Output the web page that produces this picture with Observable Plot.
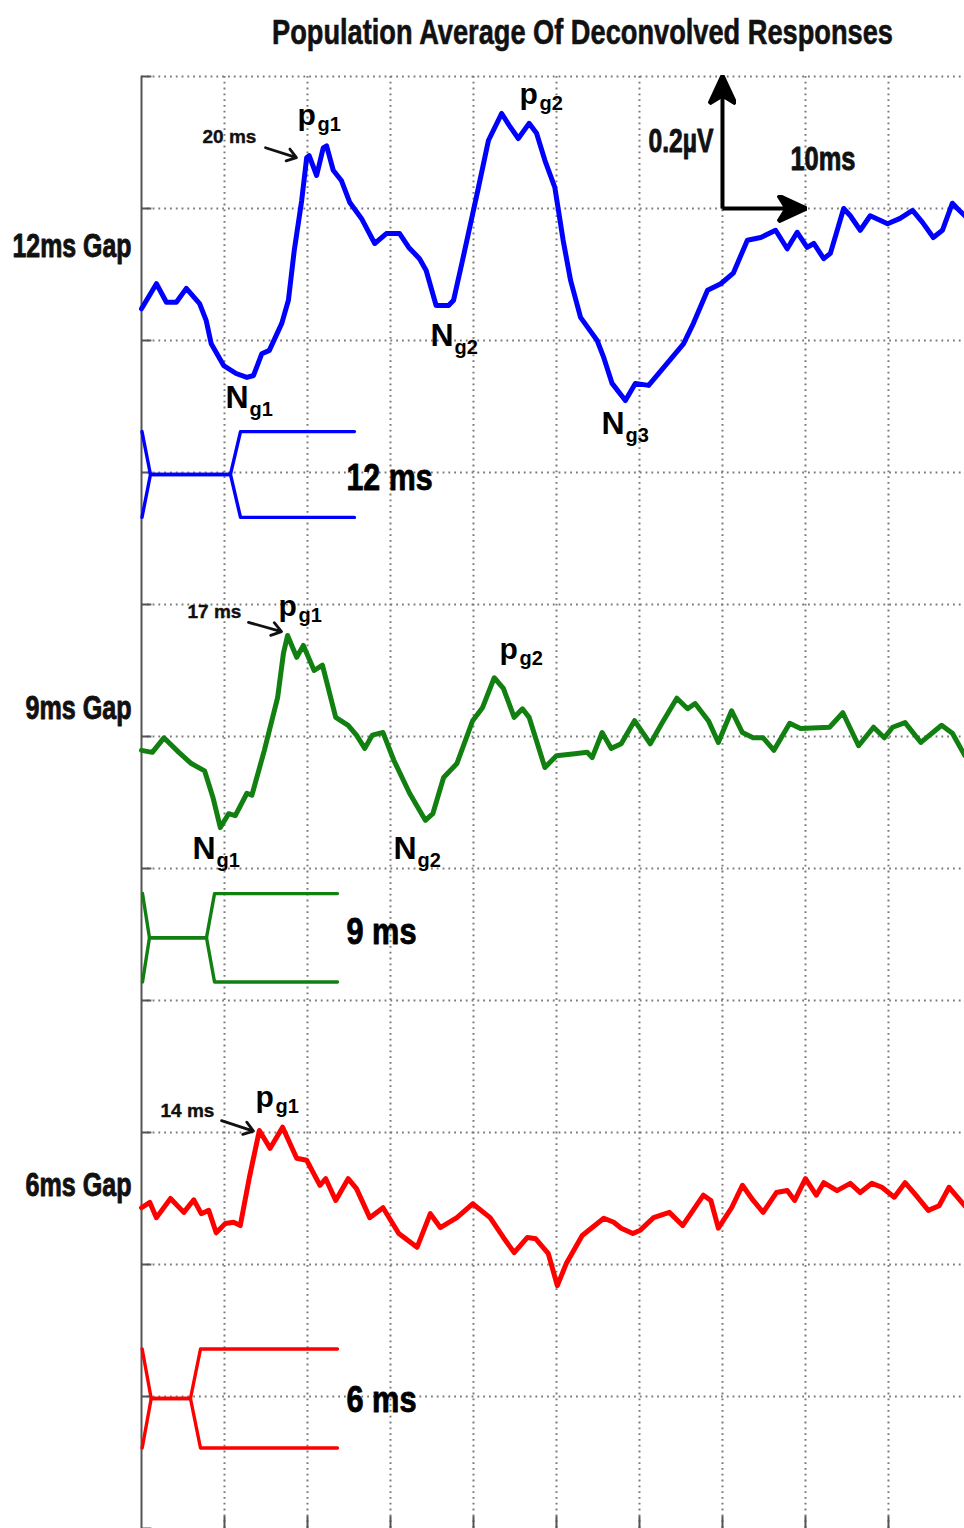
<!DOCTYPE html>
<html><head><meta charset="utf-8">
<script src="https://cdn.jsdelivr.net/npm/d3@7"></script>
<script src="https://cdn.jsdelivr.net/npm/@observablehq/plot@0.6"></script>
<style>
body{margin:0;background:#fff;}
#title{position:relative;width:964px;height:60px;overflow:hidden;}
#title span{position:absolute;left:272px;top:14px;font-weight:bold;font-size:35px;font-family:"Liberation Sans",Arial,sans-serif;line-height:1;white-space:nowrap;color:#111;transform-origin:0 0;-webkit-text-stroke:0.6px #111;}
</style></head><body>
<div id="title"><span id="titleText">Population Average Of Deconvolved Responses</span></div>
<div id="chart"></div>
<script>
// ---- data: [time (ms), amplitude (µV) relative to the trace baseline] ----
const trace12 = [[0.0,-0.152],[1.8,-0.114],[3.0,-0.142],[4.2,-0.142],[5.4,-0.121],[7.0,-0.144],[7.8,-0.170],[8.4,-0.205],[9.9,-0.238],[11.4,-0.250],[12.7,-0.256],[13.5,-0.253],[14.5,-0.220],[15.4,-0.215],[16.9,-0.174],[17.7,-0.139],[18.4,-0.064],[19.3,0.012],[19.9,0.077],[20.2,0.080],[21.1,0.050],[21.9,0.092],[22.3,0.095],[23.1,0.058],[24.1,0.042],[25.1,0.009],[26.5,-0.015],[28.1,-0.053],[29.5,-0.038],[31.1,-0.038],[32.2,-0.059],[33.5,-0.076],[34.3,-0.094],[35.5,-0.147],[37.0,-0.147],[37.6,-0.139],[38.6,-0.083],[39.8,-0.014],[40.6,0.032],[41.8,0.103],[43.4,0.144],[44.3,0.126],[45.4,0.106],[46.7,0.129],[47.6,0.114],[48.6,0.073],[49.8,0.032],[50.8,-0.048],[51.7,-0.109],[52.9,-0.165],[54.9,-0.200],[55.7,-0.226],[56.7,-0.265],[58.3,-0.291],[59.5,-0.265],[61.1,-0.268],[62.9,-0.241],[65.3,-0.205],[66.5,-0.174],[68.2,-0.124],[69.8,-0.114],[71.3,-0.098],[73.0,-0.048],[74.6,-0.044],[76.4,-0.033],[77.8,-0.061],[79.0,-0.036],[80.2,-0.059],[81.0,-0.053],[82.2,-0.076],[83.0,-0.068],[84.6,0.000],[85.4,-0.011],[86.6,-0.033],[87.8,-0.011],[89.9,-0.023],[91.4,-0.015],[92.9,-0.003],[94.1,-0.021],[95.4,-0.044],[96.5,-0.033],[97.7,0.008],[98.3,0.000],[99.2,-0.011]];
const trace9 = [[0.0,-0.021],[1.3,-0.024],[2.7,-0.002],[4.5,-0.024],[6.0,-0.041],[7.6,-0.052],[8.6,-0.092],[9.5,-0.138],[10.5,-0.117],[11.3,-0.120],[12.7,-0.086],[13.3,-0.089],[14.8,-0.021],[16.4,0.059],[17.1,0.126],[17.6,0.153],[18.7,0.120],[19.5,0.138],[20.8,0.100],[21.8,0.108],[23.4,0.029],[24.9,0.017],[25.9,0.002],[26.9,-0.018],[27.8,0.002],[29.1,0.006],[30.4,-0.036],[32.3,-0.086],[34.2,-0.127],[35.1,-0.117],[36.4,-0.062],[38.0,-0.041],[39.9,0.024],[41.1,0.044],[42.5,0.089],[43.6,0.073],[44.9,0.029],[45.9,0.042],[46.7,0.029],[48.6,-0.047],[50.0,-0.029],[52.2,-0.026],[53.7,-0.024],[54.3,-0.032],[55.5,0.006],[56.6,-0.018],[57.8,-0.011],[59.4,0.024],[61.3,-0.011],[62.7,0.020],[64.5,0.058],[65.8,0.042],[66.7,0.050],[68.3,0.024],[69.5,-0.009],[71.1,0.039],[72.4,0.006],[73.7,-0.002],[74.9,-0.002],[76.2,-0.021],[78.1,0.020],[79.4,0.012],[82.9,0.014],[84.5,0.036],[86.4,-0.014],[88.2,0.014],[89.5,-0.002],[90.5,0.014],[92.0,0.021],[93.9,-0.009],[96.4,0.017],[97.7,0.005],[99.2,-0.029]];
const trace6 = [[0.0,0.086],[1.0,0.094],[1.8,0.071],[3.5,0.100],[5.1,0.079],[6.3,0.098],[7.2,0.077],[8.1,0.082],[9.0,0.048],[10.1,0.062],[11.1,0.064],[11.9,0.059],[13.0,0.132],[14.2,0.203],[15.5,0.176],[17.0,0.208],[18.7,0.161],[19.9,0.158],[21.5,0.120],[22.2,0.130],[23.4,0.097],[24.9,0.130],[25.9,0.115],[27.5,0.071],[29.1,0.086],[31.0,0.047],[33.2,0.026],[34.8,0.077],[36.0,0.056],[38.0,0.071],[39.9,0.092],[42.0,0.071],[43.6,0.041],[44.9,0.018],[46.5,0.041],[47.5,0.039],[49.0,0.017],[50.1,-0.032],[51.2,0.002],[53.1,0.044],[55.7,0.070],[56.9,0.064],[57.8,0.055],[59.2,0.047],[60.1,0.052],[61.7,0.071],[63.6,0.079],[65.2,0.059],[67.7,0.105],[68.6,0.097],[69.5,0.055],[71.1,0.086],[72.4,0.120],[73.7,0.097],[74.9,0.079],[76.5,0.109],[77.8,0.112],[78.7,0.097],[80.0,0.130],[81.3,0.105],[82.2,0.124],[83.8,0.112],[85.4,0.123],[86.6,0.109],[88.0,0.123],[89.2,0.117],[90.7,0.102],[92.0,0.124],[93.3,0.105],[94.8,0.082],[96.1,0.089],[97.3,0.117],[99.2,0.089]];

const gapNames = ["12ms Gap", "9ms Gap", "6ms Gap"];
const gapColors = ["#0000ff", "#118011", "#ff0000"];
const traceBaselines = [2.0, 1.2, 0.4];           // µV offset of each stacked trace
const gapLabelY = [1.927, 1.227, 0.504];          // µV, baseline of the row label

// stimulus sketch: [start, tip, branch, opening, end] in ms
const stimTimes = [[0.06, 1.08, 10.72, 11.93, 25.66], [0.12, 0.96, 7.83, 8.80, 23.61], [0.08, 1.17, 5.90, 7.11, 23.61]];
const stimCenter = [1.597, 0.895, 0.197];         // µV
const stimHalf = [0.065, 0.067, 0.075];           // µV
const stimLabels = ["12 ms", "9 ms", "6 ms"];
const stimLabelPos = [[24.7, 1.573], [24.7, 0.885], [24.7, 0.176]];

// peak / trough annotations: [trace, letter, subscript, ms, µV]
const peakLabels = [
  [0, "p", "g1", 18.80, 2.126], [0, "p", "g2", 45.54, 2.159], [0, "N", "g1", 10.12, 1.697],
  [0, "N", "g2", 34.82, 1.792], [0, "N", "g3", 55.42, 1.658],
  [1, "p", "g1", 16.51, 1.383], [1, "p", "g2", 43.13, 1.318], [1, "N", "g1", 6.14, 1.015], [1, "N", "g2", 30.36, 1.015],
  [2, "p", "g1", 13.73, 0.639]
];
// latency notes: [text, textMs, textUv, arrowFromMs, arrowFromUv, arrowToMs, arrowToUv]
const latencyNotes = [
  ["20 ms", 7.35, 2.100, 14.94, 2.092, 18.67, 2.077],
  ["17 ms", 5.54, 1.380, 12.89, 1.373, 16.87, 1.359],
  ["14 ms", 2.29, 0.623, 9.64, 0.618, 13.49, 0.602]
];
// scale bar: origin (ms, µV) and lengths
const scaleBar = {t: 70.0, v: 2.0, dt: 10, dv: 0.2};
const scaleLabels = [["0.2\u00b5V", 61.08, 2.085], ["10ms", 78.19, 2.058]];

const xGrid = [10, 20, 30, 40, 50, 60, 70, 80, 90];
const yGrid = [0.2, 0.4, 0.6, 0.8, 1.0, 1.2, 1.4, 1.6, 1.8, 2.0, 2.2];

// ---- tables ----
const traces = [trace12, trace9, trace6];
const traceRows = traces.flatMap((tr, i) => tr.map(([t, v]) => ({gap: gapNames[i], color: gapColors[i], t, v: v + traceBaselines[i]})));
const stimRows = stimTimes.flatMap((ts, i) => [1, -1].flatMap(s => {
  const shape = [s, 0, 0, s, s];
  return ts.map((t, j) => ({path: i + "_" + s, color: gapColors[i], t, v: stimCenter[i] + shape[j] * stimHalf[i]}));
}));
const peakRows = peakLabels.map(([i, main, sub, t, v]) => ({i, main, sub, t, v, color: gapColors[i]}));
const noteRows = latencyNotes.map(([text, t, v, t1, v1, t2, v2]) => ({text, t, v, t1, v1, t2, v2}));
const barRows = [
  {t1: scaleBar.t, v1: scaleBar.v, t2: scaleBar.t, v2: scaleBar.v + scaleBar.dv},
  {t1: scaleBar.t, v1: scaleBar.v, t2: scaleBar.t + scaleBar.dt, v2: scaleBar.v}
];

const ARIAL = '"Liberation Sans",Arial,sans-serif';
const gridStyle = {stroke: "#7a7a7a", strokeWidth: 2, strokeDasharray: "1.8,4"};
const heavy = {stroke: "#111", strokeWidth: 0.9};
// condensed label widths (px) seen in the figure
const narrowWidths = {"12ms Gap": 119, "9ms Gap": 106, "6ms Gap": 106, "0.2\u00b5V": 65, "10ms": 65, "12 ms": 86, "9 ms": 70, "6 ms": 70};

function stealth(color, context) {
  const doc = (context && context.document) || document;
  const ns = "http://www.w3.org/2000/svg";
  const m = doc.createElementNS(ns, "marker");
  m.setAttribute("viewBox", "-28 -14 30 28");
  m.setAttribute("markerWidth", "30");
  m.setAttribute("markerHeight", "28");
  m.setAttribute("markerUnits", "userSpaceOnUse");
  m.setAttribute("orient", "auto");
  m.setAttribute("refX", "0");
  m.setAttribute("refY", "0");
  const p = doc.createElementNS(ns, "path");
  p.setAttribute("d", "M1,0L-27,-13L-19,0L-27,13Z");
  p.setAttribute("fill", color);
  m.appendChild(p);
  return m;
}

function build(customMarker) {
  const barMark = customMarker
    ? Plot.link(barRows, {x1: "t1", y1: "v1", x2: "t2", y2: "v2", stroke: "#000", strokeWidth: 4, markerEnd: stealth})
    : Plot.arrow(barRows, {x1: "t1", y1: "v1", x2: "t2", y2: "v2", stroke: "#000", strokeWidth: 4, headLength: 24, headAngle: 50});
  return Plot.plot({
    width: 964, height: 1468,
    marginLeft: 141, marginRight: 0, marginTop: 16, marginBottom: 0,
    x: {domain: [0, 99.16], axis: null},
    y: {domain: [0, 2.2], axis: null},
    style: {background: "#fff", overflow: "visible"},
    marks: [
      Plot.ruleX(xGrid, gridStyle),
      Plot.ruleY(yGrid, gridStyle),
      Plot.ruleX([0], {stroke: "#555", strokeWidth: 2}),
      Plot.ruleY([0, ...yGrid], {x1: 0, x2: 1.25, stroke: "#555", strokeWidth: 2}),
      Plot.ruleX(xGrid, {y1: 0, y2: 0.018, stroke: "#555", strokeWidth: 2}),
      Plot.line(stimRows, {x: "t", y: "v", z: "path", stroke: "color", strokeWidth: 3.4, strokeLinejoin: "round"}),
      Plot.line(traceRows, {x: "t", y: "v", z: "gap", stroke: "color", strokeWidth: 5, strokeLinejoin: "round", strokeLinecap: "round"}),
      barMark,
      Plot.arrow(noteRows, {x1: "t1", y1: "v1", x2: "t2", y2: "v2", stroke: "#111", strokeWidth: 2.8, headLength: 13, headAngle: 70}),
      Plot.text(noteRows, {x: "t", y: "v", text: "text", textAnchor: "start", lineAnchor: "bottom", fontFamily: ARIAL, fontWeight: "bold", fontSize: 19, fill: "#111", stroke: "#111", strokeWidth: 0.4}),
      Plot.text(peakRows, {x: "t", y: "v", text: "main", textAnchor: "start", lineAnchor: "bottom", fontFamily: ARIAL, fontWeight: "bold", fontSize: d => d.main === "N" ? 32 : 30, fill: "#000"}),
      Plot.text(peakRows.filter(d => d.main === "p"), {x: "t", y: "v", text: "sub", textAnchor: "start", lineAnchor: "bottom", dx: 20, dy: 6, fontFamily: ARIAL, fontWeight: "bold", fontSize: 20, fill: "#000"}),
      Plot.text(peakRows.filter(d => d.main === "N"), {x: "t", y: "v", text: "sub", textAnchor: "start", lineAnchor: "bottom", dx: 24, dy: 8, fontFamily: ARIAL, fontWeight: "bold", fontSize: 20, fill: "#000"}),
      Plot.text(stimLabels, {x: (d, i) => stimLabelPos[i][0], y: (d, i) => stimLabelPos[i][1], text: d => d, textAnchor: "start", lineAnchor: "bottom", fontFamily: ARIAL, fontWeight: "bold", fontSize: 36, fill: "#000", ...heavy}),
      Plot.text(gapNames, {x: 0, y: (d, i) => gapLabelY[i], text: d => d, textAnchor: "end", lineAnchor: "bottom", dx: -10, fontFamily: ARIAL, fontWeight: "bold", fontSize: 33, fill: "#111", ...heavy}),
      Plot.text(scaleLabels, {x: d => d[1], y: d => d[2], text: d => d[0], textAnchor: "start", lineAnchor: "bottom", fontFamily: ARIAL, fontWeight: "bold", fontSize: 33, fill: "#111", ...heavy})
    ]
  });
}

let chart;
try { chart = build(true); } catch (e) { chart = build(false); }
document.getElementById("chart").appendChild(chart);

// condense the MATLAB-style labels to the widths they have in the figure
d3.select(chart).selectAll("text").each(function () {
  const w = narrowWidths[this.textContent];
  if (w) { this.setAttribute("textLength", w); this.setAttribute("lengthAdjust", "spacingAndGlyphs"); }
});
// condense the title to its width in the figure
const tt = document.getElementById("titleText");
const tw = tt.getBoundingClientRect().width;
tt.style.transform = "scaleX(" + (621 / tw) + ")";
</script>
</body></html>
